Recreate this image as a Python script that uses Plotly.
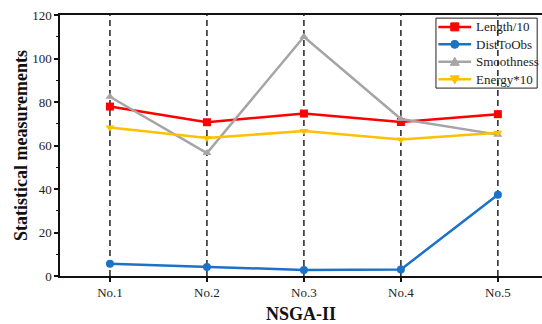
import plotly.graph_objects as go

# Categories and series values
categories = ["No.1", "No.2", "No.3", "No.4", "No.5"]
length_div10 = [77.9, 70.7, 74.7, 70.8, 74.4]
dist_to_obs = [5.6, 4.1, 2.8, 3.0, 37.4]
smoothness = [82.4, 56.5, 110.0, 72.2, 65.0]
energy_x10 = [68.3, 63.4, 66.7, 62.8, 65.9]
y_ticks = [0, 20, 40, 60, 80, 100, 120]

series = [
    ("Length/10", length_div10, "#FF0000", "square"),
    ("DistToObs", dist_to_obs, "#1A72C9", "circle"),
    ("Smoothness", smoothness, "#A5A5A5", "triangle-up"),
    ("Energy*10", energy_x10, "#FFC000", "triangle-down"),
]

FONT = "Liberation Serif"

# legend glyph outlines in pixels around the anchor point
GLYPHS = {
    "square": ("rect", None),
    "circle": ("circle", None),
    "triangle-up": ("path", "M-4.5,-3.5 L4.5,-3.5 L0,4.5 Z"),
    "triangle-down": ("path", "M-4.5,3.5 L4.5,3.5 L0,-4.5 Z"),
}

fig = go.Figure()

# dashed guide at each category
for c in categories:
    fig.add_shape(type="line", xref="x", yref="y", x0=c, x1=c, y0=0, y1=120,
                  line=dict(color="#222222", width=1.5, dash="6px,4px"), layer="below")

for name, vals, color, sym in series:
    fig.add_trace(go.Scatter(
        x=categories, y=vals, name=name, mode="lines+markers",
        line=dict(color=color, width=2.5),
        marker=dict(symbol=sym, size=8, color=color),
        showlegend=False,
    ))

# compact boxed legend in the top-right corner (paper coordinates)
box_x0, box_x1 = 0.780, 0.990
box_y0, box_y1 = 0.720, 0.988
row_h = (box_y1 - box_y0) / 4
line_x0, line_x1 = 0.785, 0.853
text_x = 0.858
fig.add_shape(type="rect", xref="paper", yref="paper",
              x0=box_x0, x1=box_x1, y0=box_y0, y1=box_y1,
              line=dict(color="#222222", width=1), fillcolor="white", layer="below")
for i, (name, vals, color, sym) in enumerate(series):
    yy = box_y1 - row_h * (i + 0.5)
    xc = (line_x0 + line_x1) / 2
    fig.add_shape(type="line", xref="paper", yref="paper",
                  x0=line_x0, x1=line_x1, y0=yy, y1=yy,
                  line=dict(color=color, width=2.5), layer="above")
    kind, path = GLYPHS[sym]
    glyph = dict(xref="paper", yref="paper", xsizemode="pixel", ysizemode="pixel",
                 xanchor=xc, yanchor=yy, fillcolor=color,
                 line=dict(color=color, width=1), layer="above")
    if kind == "path":
        fig.add_shape(type="path", path=path, **glyph)
    else:
        fig.add_shape(type=kind, x0=-4, x1=4, y0=-4, y1=4, **glyph)
    fig.add_annotation(xref="paper", yref="paper", x=text_x, y=yy,
                       xanchor="left", yanchor="middle", showarrow=False,
                       text=name, font=dict(family=FONT, size=13, color="#222222"))

fig.update_layout(
    width=542, height=324,
    margin=dict(l=60, r=0, t=15, b=48),
    paper_bgcolor="white", plot_bgcolor="white",
    font=dict(family=FONT, size=13, color="#222222"),
    showlegend=False,
    xaxis=dict(
        type="category", range=[-0.515, 4.455],
        showgrid=False, zeroline=False,
        showline=True, linecolor="#111111", linewidth=1.5, mirror=True,
        ticks="outside", ticklen=4, tickwidth=1.5, tickcolor="#111111",
        tickfont=dict(family=FONT, size=13, color="#222222"),
        title=dict(text="<b>NSGA-II</b>", font=dict(family=FONT, size=18, color="#111111"), standoff=12),
    ),
    yaxis=dict(
        range=[0, 120], tickvals=y_ticks,
        showgrid=False, zeroline=False,
        showline=True, linecolor="#111111", linewidth=1.5, mirror=False,
        ticks="outside", ticklen=4, tickwidth=1.5, tickcolor="#111111",
        tickfont=dict(family=FONT, size=13, color="#222222"),
        minor=dict(dtick=10, ticks="outside", ticklen=2, tickwidth=1, tickcolor="#111111"),
        title=dict(text="<b>Statistical measurements</b>", font=dict(family=FONT, size=18, color="#111111"), standoff=0),
    ),
)

fig.write_html("out.html")
